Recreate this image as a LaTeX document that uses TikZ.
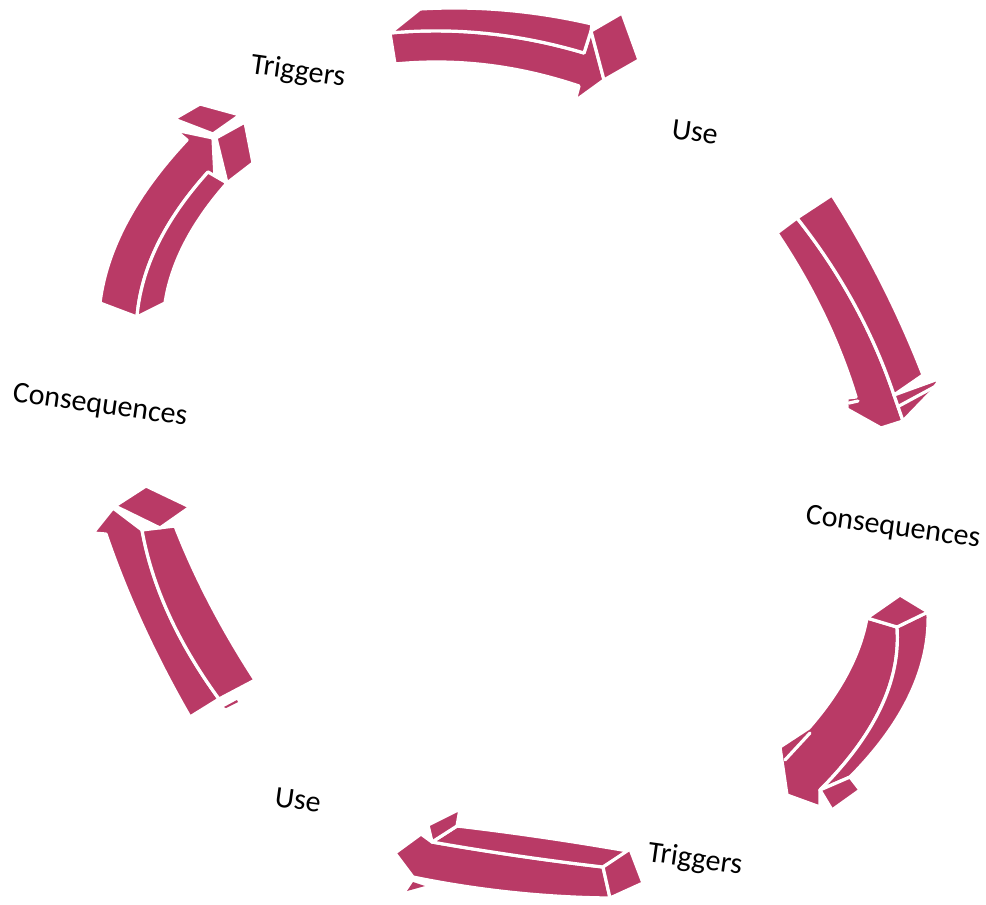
\documentclass[tikz,border=0pt]{standalone}
\usepackage{fontspec}
\setmainfont{Carlito}
\usetikzlibrary{calc}
\definecolor{mag}{RGB}{185,58,102}
\newcommand{\qc}[3]{.. controls ($#1!0.6667!#2$) and ($#3!0.6667!#2$) .. #3}
\tikzset{
  face/.style={fill=mag, draw=white, line width=2.4pt, line join=round},
  gapline/.style={draw=white, line width=2.4pt, line cap=round},
  lbl/.style={font=\fontsize{22.5}{27}\selectfont, rotate=-8, inner sep=0pt}
}
\begin{document}
\begin{tikzpicture}[x=0.75pt, y=-0.75pt]
\useasboundingbox (0,0) rectangle (986,904);
% ---------- Arrow 1 (top) ----------
\path[face] (390,33) \qc{(390,33)}{(487,24)}{(584,53)} -- (591,31) -- (604,80) -- (575,101) -- (579,86)
  \qc{(579,86)}{(487,55)}{(395,64)} -- cycle;
\path[face] (390,33) -- (420,9) \qc{(420,9)}{(506,4)}{(592,24)} -- (591,31) -- (584,53)
  \qc{(584,53)}{(487,24)}{(390,33)} -- cycle;
\path[face] (591,31) -- (622,13) -- (639,60) -- (604,80) -- cycle;
% ---------- Arrow 2 (right upper) ----------
\path[face] (777,233) -- (797,218) \qc{(797,218)}{(862,300)}{(894,395)} -- (903,421) -- (881,428) -- (847,409) -- (847,398) -- (856,397)
  \qc{(856,397)}{(830,312)}{(777,233)} -- cycle;
\path[face] (797,218) -- (832,195) \qc{(832,195)}{(886,280)}{(923,375)} -- (894,395)
  \qc{(894,395)}{(862,300)}{(797,218)} -- cycle;
\path[face] (894,395) -- (941,378) -- (931,392) -- (903,421) -- cycle;
\path[gapline] (899,406) -- (936,386);
\path[gapline] (849,403) -- (858,401);
% ---------- Arrow 3 (right lower) ----------
\path[face] (867,618) -- (897,627) \qc{(897,627)}{(903,707)}{(820,790)} -- (820,807) -- (787,795) -- (780,747) -- (809,728)
  \qc{(809,728)}{(857,673)}{(867,618)} -- cycle;
\path[face] (897,627) -- (928,612) \qc{(928,612)}{(931,695)}{(850,777)} -- (820,790)
  \qc{(820,790)}{(903,707)}{(897,627)} -- cycle;
\path[face] (867,618) -- (897,627) -- (928,612) -- (900,595) -- cycle;
\path[face] (820,790) -- (850,777) -- (860,790) -- (832,810) -- cycle;
\path[gapline] (785,760) -- (810,733);
% ---------- Arrow 4 (bottom) ----------
\path[face] (603,867) \qc{(603,867)}{(517,857)}{(432,842)} -- (421,834) -- (395,853) -- (413,877)
  \qc{(413,877)}{(511,897)}{(610,898)} -- cycle;
\path[face] (432,842) -- (457,826) \qc{(457,826)}{(542,836)}{(628,851)} -- (603,867)
  \qc{(603,867)}{(517,857)}{(432,842)} -- cycle;
\path[face] (603,867) -- (630,849) -- (643,883) -- (610,898) -- cycle;
\path[face] (428,825) -- (460,809) -- (457,826) -- (432,842) -- cycle;
\fill[mag] (407,891) -- (413,882) -- (425,886) -- cycle;
% ---------- Arrow 5 (left lower) ----------
\path[face] (93,533) -- (113,508) -- (142,530) \qc{(142,530)}{(157,614)}{(219,699)} -- (190,717)
  \qc{(190,717)}{(137,625)}{(106,534)} -- cycle;
\path[face] (142,530) -- (175,526) \qc{(175,526)}{(205,603)}{(255,680)} -- (219,699)
  \qc{(219,699)}{(157,614)}{(142,530)} -- cycle;
\path[face] (115,506) -- (146,486) -- (190,507) -- (160,528) -- cycle;
\fill[mag] (224,707) -- (237,700) -- (238,702) -- (226,708) -- cycle;
% ---------- Arrow 6 (left upper) ----------
\path[face] (175,130) -- (213,138) -- (215,178) -- (208,172) \qc{(208,172)}{(143,244)}{(137,317)} -- (100,303)
  \qc{(100,303)}{(110,222)}{(187,140)} -- cycle;
\path[face] (208,172) -- (227,183) \qc{(227,183)}{(174,243)}{(165,303)} -- (137,317)
  \qc{(137,317)}{(143,244)}{(208,172)} -- cycle;
\path[face] (174,119) -- (200,104) -- (240,115) -- (213,134) -- cycle;
\path[face] (216,138) -- (245,122) -- (253,163) -- (227,183) -- cycle;
% ---------- Labels ----------
\node[lbl] (trig1) at (298,72) {Triggers};
\node[lbl] (use1) at (695,132) {Use};
\node[lbl] (cons1) at (893,528) {Consequences};
\node[lbl] (trig2) at (695,860) {Triggers};
\node[lbl] (use2) at (298,800) {Use};
\node[lbl] (cons2) at (100,406) {Consequences};
\end{tikzpicture}
\end{document}
